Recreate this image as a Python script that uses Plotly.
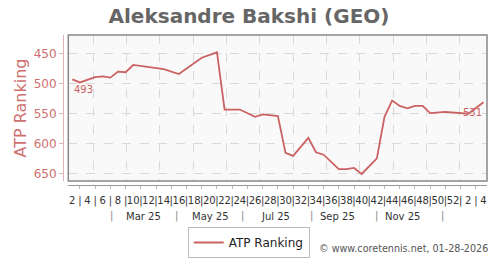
import plotly.graph_objects as go

# ---- data (week index 0 = ISO week 2 of 2025) ----
week_index = [0, 1, 3, 4, 5, 6, 7, 8, 12, 14, 17, 19, 20, 22, 24, 25, 27, 28, 29, 31, 32, 33,
              35, 36, 37, 38, 40, 41, 42, 43, 44, 45, 46, 47, 49, 50, 52, 54]
atp_rank = [493, 498, 489, 488, 490, 480, 481, 469, 476, 484, 457, 448, 543, 543, 555, 551, 554,
            615, 620, 590, 614, 618, 642, 642, 640, 650, 624, 555, 528, 537, 541, 537, 537, 549,
            547, 548, 550, 531]

tick_weeks = list(range(0, 55))
tick_labels = [str((w + 2) if w < 52 else (w - 50)) if w % 2 == 0 else "|" for w in tick_weeks]

month_pos = [9.4, 18.1, 26.7, 34.8, 43.4]
month_labels = ["Mar 25", "May 25", "Jul 25", "Sep 25", "Nov 25"]
month_sep = [5.17, 13.7, 22.4, 31.4, 39.9, 48.6]
grid_pos = [2.76, 7.13, 11.51, 15.88, 20.26, 24.63, 29.01, 33.38, 37.76, 42.13, 46.51, 50.88]

y_ticks = [450, 500, 550, 600, 650]

LINE = "#cb6262"
LBL = "#cf6f6f"
FONT = "DejaVu Sans"

fig = go.Figure()
fig.add_trace(go.Scatter(x=week_index, y=atp_rank, mode="lines", name="ATP Ranking",
                         line=dict(color=LINE, width=1.8)))
# invisible trace on overlay axis for vertical grid
fig.add_trace(go.Scatter(x=[week_index[0]], y=[atp_rank[0]], xaxis="x2", mode="markers",
                         marker=dict(opacity=0), showlegend=False, hoverinfo="skip"))

xr = [-0.525, 54.46]
fig.update_layout(
    width=500, height=270,
    margin=dict(l=63, r=12.7, t=35.3, b=75),
    paper_bgcolor="white", plot_bgcolor="#f9f9f9",
    font=dict(family=FONT, size=10, color="#333"),
    title=dict(text="<b>Aleksandre Bakshi (GEO)</b>", x=0.498, y=1 - 16 / 270,
               xref="container", yref="container", xanchor="center", yanchor="middle",
               font=dict(size=20, color="#666", family=FONT)),
    xaxis=dict(domain=[0.0125, 1], range=xr, anchor="free", position=0,
               tickmode="array", tickvals=tick_weeks, ticktext=tick_labels, tickangle=0,
               ticks="", showgrid=False, zeroline=False, ticklabelstandoff=6,
               showline=True, linecolor="#999", linewidth=1,
               tickfont=dict(size=10, color="#333"),
               minor=dict(tickmode="array", tickvals=[w for w in tick_weeks if w % 2 == 1],
                          ticks="outside", ticklen=3, tickcolor="#bbb", showgrid=False)),
    xaxis2=dict(overlaying="x", range=xr, anchor="y", tickmode="array", tickvals=grid_pos,
                showticklabels=False, ticks="", showgrid=True, gridcolor="#d9d9d9",
                griddash="dash", gridwidth=1, zeroline=False, showline=False, side="bottom"),
    yaxis=dict(domain=[0.027, 1], range=[661.6, 419.2], anchor="free", position=0,
               tickmode="array", tickvals=y_ticks, ticks="outside", ticklen=4,
               tickcolor="#e0b4b4", showline=True, linecolor="#e0b4b4", linewidth=1,
               showgrid=True, gridcolor="#d9d9d9", griddash="dash", zeroline=False,
               tickfont=dict(size=12, color=LBL),
               title=dict(text="ATP Ranking", font=dict(size=16, color=LBL), standoff=2)),
    legend=dict(orientation="h", x=0.438, y=-0.28, xanchor="center", yanchor="top",
                bordercolor="#bbb", borderwidth=1, bgcolor="white",
                font=dict(size=12, color="#222")),
    showlegend=True,
)

# plot frame
fig.add_shape(type="rect", xref="x domain", yref="y domain", x0=0, x1=1, y0=0, y1=1,
              line=dict(color="#888", width=1.5), fillcolor="rgba(0,0,0,0)", layer="above")

# month row
for p, t in zip(month_pos, month_labels):
    fig.add_annotation(x=p, xref="x", y=-0.207, yref="paper", text=t, showarrow=False,
                       font=dict(size=10, color="#333"), xanchor="center", yanchor="middle")
for p in month_sep:
    fig.add_annotation(x=p, xref="x", y=-0.207, yref="paper", text="|", showarrow=False,
                       font=dict(size=10, color="#888"), xanchor="center", yanchor="middle")

# first / last value labels
fig.add_annotation(x=week_index[0], y=atp_rank[0], text=str(atp_rank[0]), showarrow=False,
                   xanchor="left", yanchor="top", yshift=-3, font=dict(size=10, color=LINE))
fig.add_annotation(x=week_index[-1], y=atp_rank[-1], text=str(atp_rank[-1]), showarrow=False,
                   xanchor="right", yanchor="top", yshift=-3, font=dict(size=10, color=LINE))

fig.add_annotation(text="\u00a9 www.coretennis.net, 01-28-2026", xref="paper", yref="paper",
                   x=1.006, y=-0.426, xanchor="right", yanchor="middle", showarrow=False,
                   font=dict(size=9.6, color="#555"))

fig.write_html("out.html")
